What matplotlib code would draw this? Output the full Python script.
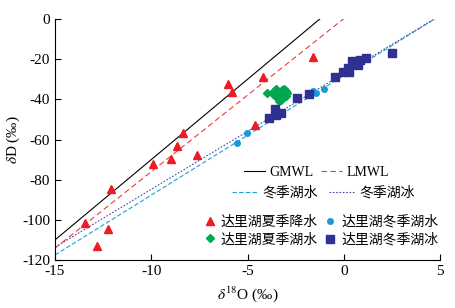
import numpy as np
import matplotlib
matplotlib.use("Agg")
import matplotlib.pyplot as plt

plt.rcParams["font.family"] = ["Liberation Serif", "Noto Sans CJK SC"]
plt.rcParams["mathtext.fontset"] = "stix"
plt.rcParams["axes.unicode_minus"] = False

# summer precipitation (triangles)
pre_x = [-13.44, -12.84, -12.26, -12.11, -9.89, -8.99, -8.68, -8.34, -7.64,
         -6.0, -5.82, -4.59, -4.18, -1.58]
pre_y = [-101.4, -113.0, -104.7, -84.7, -72.4, -69.7, -63.2, -56.9, -67.7,
         -32.5, -36.5, -52.8, -29.0, -18.8]
# summer lake water (diamonds)
slw_x = [-3.97, -3.6, -3.5, -3.4, -3.3, -3.2, -3.1, -3.0, -3.5, -3.4, -3.3,
         -3.2, -3.1, -3.0, -3.35, -3.25, -3.6, -2.95]
slw_y = [-37.0, -36.0, -35.0, -37.0, -36.5, -35.5, -35.0, -36.0, -38.5, -39.5,
         -38.0, -39.0, -38.0, -38.5, -41.0, -40.5, -38.0, -37.0]
# winter lake water (circles)
wlw_x = [-5.53, -5.04, -1.58, -1.45, -1.03]
wlw_y = [-61.6, -56.9, -35.9, -36.7, -34.9]
# winter lake ice (squares)
wli_x = [-3.9, -3.55, -3.5, -3.25, -2.45, -1.83, -0.45, -0.05, 0.2, 0.25,
         0.45, 0.5, 0.7, 0.75, 0.85, 1.15, 2.5]
wli_y = [-49.5, -45.0, -47.8, -47.0, -39.5, -37.2, -28.7, -26.6, -24.2, -26.4,
         -21.0, -22.5, -21.5, -23.0, -20.3, -19.3, -16.8]

# regression lines (slope, intercept)
gmwl = (8.0, 10.0)
lmwl = (7.62, 0.2)
wlw_line = (5.96, -28.1)
wli_line = (5.77, -27.1)

fig = plt.figure(figsize=(4.55, 3.08), dpi=100)
ax = fig.add_axes([0.121, 0.156, 0.846, 0.782])

xx = np.linspace(-15, 5, 200)
l1, = ax.plot(xx, gmwl[0]*xx + gmwl[1], color='k', lw=0.8)
l2, = ax.plot(xx, lmwl[0]*xx + lmwl[1], color='#ef3b3b', lw=0.8, ls=(0, (5, 3)))
l3, = ax.plot(xx, wlw_line[0]*xx + wlw_line[1], color='#1ea0dc', lw=0.8, ls=(0, (4, 2)))
l4, = ax.plot(xx, wli_line[0]*xx + wli_line[1], color='#4a4aa8', lw=0.8, ls=(0, (1.5, 1.5)))

m1, = ax.plot(pre_x, pre_y, '^', color='#ed1c24', ms=5.5, ls='none')
m2, = ax.plot(slw_x, slw_y, 'D', color='#00a651', ms=4, ls='none')
m3, = ax.plot(wlw_x, wlw_y, 'o', color='#1a9ad8', ms=4, ls='none')
m4, = ax.plot(wli_x, wli_y, 's', color='#2e3192', ms=6, ls='none')

ax.set_xlim(-15, 5)
ax.set_ylim(-120, 0)
ax.set_xticks([-15, -10, -5, 0, 5])
ax.set_yticks([-120, -100, -80, -60, -40, -20, 0])
ax.spines['top'].set_visible(False)
ax.spines['right'].set_visible(False)
ax.tick_params(direction='in', labelsize=11, length=4)
ax.set_xlabel(r'$\delta^{18}$O (‰)', fontsize=11, labelpad=5)
ax.set_ylabel(r'$\delta$D (‰)', fontsize=11, labelpad=0)

leg1 = ax.legend([l1, l2], ['GMWL', 'LMWL'], ncol=2, loc='center',
                 bbox_to_anchor=(0.679, 0.365), frameon=False, fontsize=10,
                 handlelength=1.5, columnspacing=0.6, handletextpad=0.3)
ax.add_artist(leg1)
leg2 = ax.legend([l3, l4], ['冬季湖水', '冬季湖冰'], ncol=2, loc='center',
                 bbox_to_anchor=(0.697, 0.278), frameon=False, fontsize=10,
                 handlelength=1.8, columnspacing=0.8, handletextpad=0.4)
ax.add_artist(leg2)
ax.legend([m1, m2, m3, m4], ['达里湖夏季降水', '达里湖夏季湖水', '达里湖冬季湖水', '达里湖冬季湖冰'],
          ncol=2, loc='center', bbox_to_anchor=(0.692, 0.12), frameon=False,
          fontsize=10, handlelength=0.8, columnspacing=0.5, handletextpad=0.4,
          labelspacing=0.3)

fig.savefig('out.png', dpi=100)
